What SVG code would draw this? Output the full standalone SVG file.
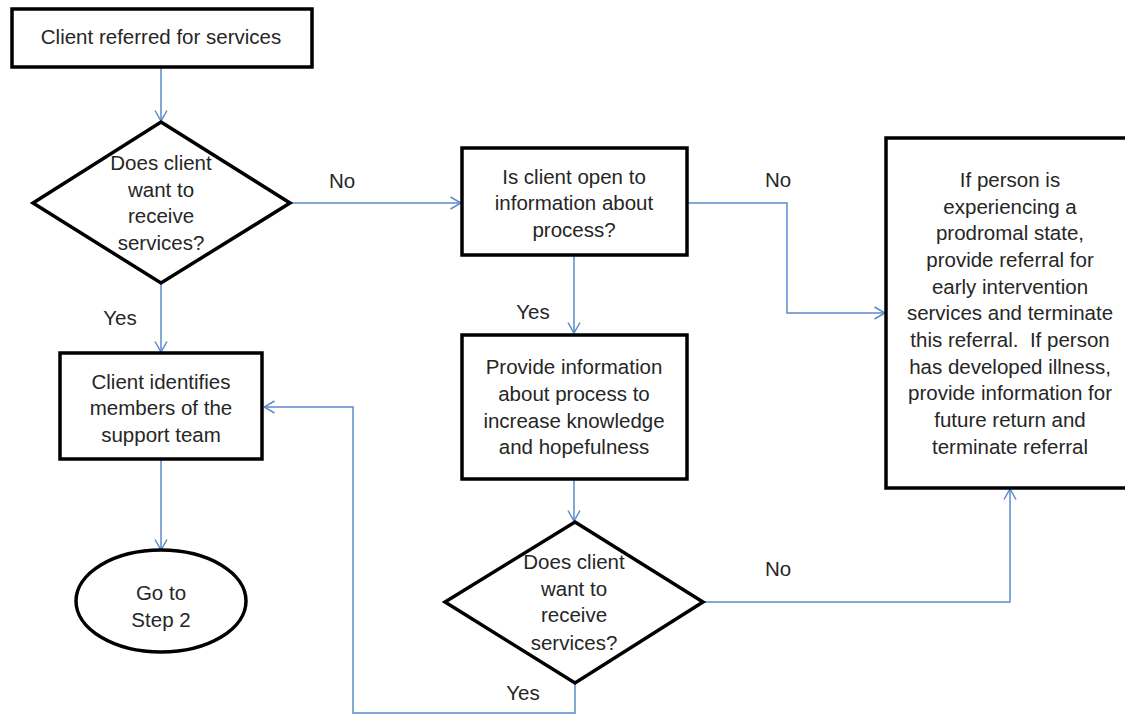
<svg xmlns="http://www.w3.org/2000/svg" width="1125" height="715" viewBox="0 0 1125 715">
  <style>
    .box { fill: #ffffff; stroke: #000000; stroke-width: 3.5; }
    .dec { fill: #ffffff; stroke: #000000; stroke-width: 3.5; stroke-linejoin: miter; }
    .lbl { font-family: "Liberation Sans", Arial, sans-serif; font-size: 20.5px; fill: #262626; text-anchor: middle; }
    .edge { fill: none; stroke: #5b8bc9; stroke-width: 1.5; }
  </style>
  <defs>
    <marker id="arrow" viewBox="0 0 12 14" refX="11.5" refY="7" markerWidth="12" markerHeight="14" markerUnits="userSpaceOnUse" orient="auto">
      <path d="M1,1 L11.5,7 L1,13" fill="none" stroke="#5b8bc9" stroke-width="1.5"/>
    </marker>
  </defs>

  <rect width="1125" height="715" fill="#ffffff"/>

  <!-- connectors -->
  <g id="connectors">
    <path class="edge" d="M161,67 V121" marker-end="url(#arrow)"/>
    <path class="edge" d="M290,203 H461" marker-end="url(#arrow)"/>
    <path class="edge" d="M574,255 V333" marker-end="url(#arrow)"/>
    <path class="edge" d="M687,203 H787 V313 H885" marker-end="url(#arrow)"/>
    <path class="edge" d="M161,283 V352" marker-end="url(#arrow)"/>
    <path class="edge" d="M574,479 V521" marker-end="url(#arrow)"/>
    <path class="edge" d="M703,602 H1010 V489" marker-end="url(#arrow)"/>
    <path class="edge" d="M575,683 V713 H353 V407 H264" marker-end="url(#arrow)"/>
    <path class="edge" d="M161,459 V550" marker-end="url(#arrow)"/>
    <text class="lbl" x="342" y="188">No</text>
    <text class="lbl" x="778" y="187">No</text>
    <text class="lbl" x="533" y="319">Yes</text>
    <text class="lbl" x="120" y="325">Yes</text>
    <text class="lbl" x="523" y="700">Yes</text>
    <text class="lbl" x="778" y="576">No</text>
  </g>

  <g id="referred">
    <rect class="box" x="12" y="9" width="300" height="58"/>
    <text class="lbl" x="161" y="44">Client referred for services</text>
  </g>

  <g id="wants-services-1">
    <polygon class="dec" points="161,122 290,203 161,283 33,203"/>
    <text class="lbl" x="161" y="170">Does client</text>
    <text class="lbl" x="161" y="197">want to</text>
    <text class="lbl" x="161" y="223">receive</text>
    <text class="lbl" x="161" y="250">services?</text>
  </g>

  <g id="open-to-info">
    <rect class="box" x="462" y="148" width="225" height="107"/>
    <text class="lbl" x="574" y="184">Is client open to</text>
    <text class="lbl" x="574" y="210">information about</text>
    <text class="lbl" x="574" y="237">process?</text>
  </g>

  <g id="referral-out">
    <rect class="box" x="886" y="138" width="260" height="350"/>
    <text class="lbl" x="1010" y="187">If person is</text>
    <text class="lbl" x="1010" y="214">experiencing a</text>
    <text class="lbl" x="1010" y="240">prodromal state,</text>
    <text class="lbl" x="1010" y="267">provide referral for</text>
    <text class="lbl" x="1010" y="294">early intervention</text>
    <text class="lbl" x="1010" y="320">services and terminate</text>
    <text class="lbl" x="1010" y="347" style="white-space:pre">this referral.  If person</text>
    <text class="lbl" x="1010" y="374">has developed illness,</text>
    <text class="lbl" x="1010" y="400">provide information for</text>
    <text class="lbl" x="1010" y="427">future return and</text>
    <text class="lbl" x="1010" y="454">terminate referral</text>
  </g>

  <g id="provide-info">
    <rect class="box" x="462" y="335" width="225" height="144"/>
    <text class="lbl" x="574" y="374">Provide information</text>
    <text class="lbl" x="574" y="401">about process to</text>
    <text class="lbl" x="574" y="428">increase knowledge</text>
    <text class="lbl" x="574" y="454">and hopefulness</text>
  </g>

  <g id="wants-services-2">
    <polygon class="dec" points="575,522 703,602 575,683 445,602"/>
    <text class="lbl" x="574" y="569">Does client</text>
    <text class="lbl" x="574" y="596">want to</text>
    <text class="lbl" x="574" y="622">receive</text>
    <text class="lbl" x="574" y="650">services?</text>
  </g>

  <g id="support-team">
    <rect class="box" x="60" y="353" width="202" height="106"/>
    <text class="lbl" x="161" y="389">Client identifies</text>
    <text class="lbl" x="161" y="415">members of the</text>
    <text class="lbl" x="161" y="442">support team</text>
  </g>

  <g id="step-2">
    <ellipse class="box" cx="161" cy="601" rx="85" ry="51"/>
    <text class="lbl" x="161" y="600">Go to</text>
    <text class="lbl" x="161" y="627">Step 2</text>
  </g>
</svg>
